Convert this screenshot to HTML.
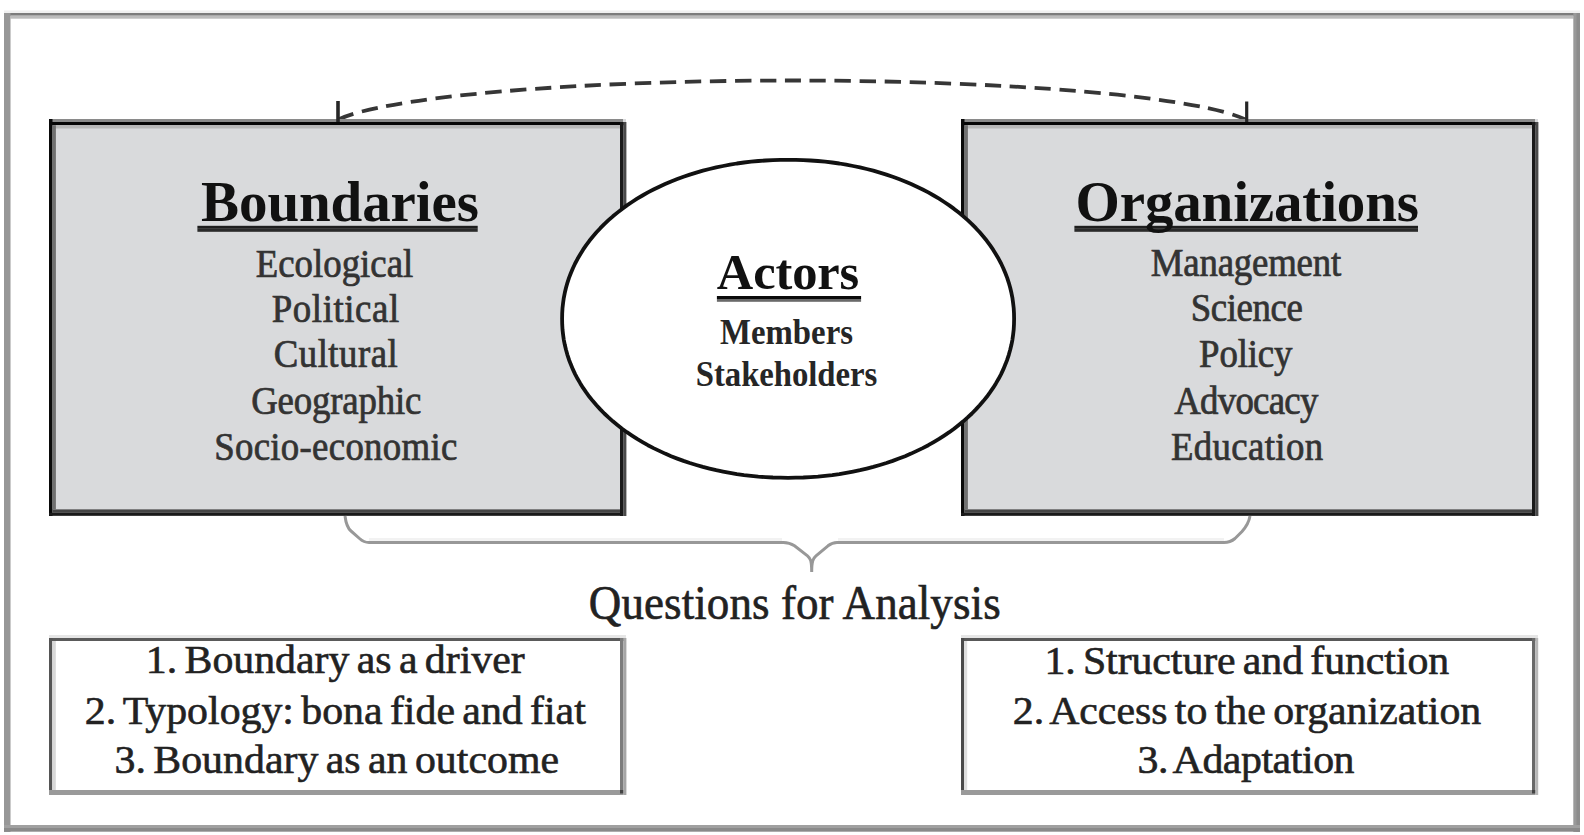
<!DOCTYPE html>
<html>
<head>
<meta charset="utf-8">
<style>
html,body{margin:0;padding:0;background:#fff;width:1584px;height:835px;overflow:hidden}
svg{display:block}
text{font-family:"Liberation Serif",serif}
.t{font-weight:bold;fill:#111}
.t2{font-weight:bold;fill:#262626}
.l{fill:#333;stroke:#333;stroke-width:0.7px}
.q{fill:#222;stroke:#222;stroke-width:0.6px;word-spacing:-3px}
.qa{fill:#222;stroke:#222;stroke-width:0.6px}

</style>
</head>
<body>
<svg width="1584" height="835" viewBox="0 0 1584 835">
  <rect x="0" y="0" width="1584" height="835" fill="#fff"/>
  <!-- outer frame -->
  <rect x="4" y="10.5" width="1576" height="2.5" fill="#f0f0f0"/>
  <rect x="4" y="13" width="1576" height="2.7" fill="#7c7c7c"/>
  <rect x="10.5" y="15.7" width="1563" height="3" fill="#bcbcbc"/>
  <rect x="4" y="13" width="6.5" height="819" fill="#979797"/>
  <rect x="1573.3" y="13" width="6.7" height="819" fill="#999"/>
  <rect x="1576.5" y="13" width="3.5" height="819" fill="#8c8c8c"/>
  <rect x="4" y="825" width="1576" height="3" fill="#a0a0a0"/>
  <rect x="4" y="828" width="1576" height="3.7" fill="#8a8a8a"/>

  <!-- dashed arc -->
  <path d="M 338 119.7 A 465 50 0 0 1 1246 119.7" fill="none" stroke="#363636" stroke-width="3.8" stroke-dasharray="16.3 8.675" stroke-dashoffset="-0.49"/>

  <!-- boxes -->
  <g>
    <rect x="49" y="119" width="577" height="397" fill="#d9dadc"/>
    <rect x="49" y="119" width="574" height="3" fill="#8a8a8a"/>
    <rect x="49" y="122" width="577" height="3.2" fill="#060606"/>
    <rect x="52.5" y="125.2" width="568" height="3.3" fill="#b8b8b8"/>
    <rect x="49" y="119" width="3.5" height="397" fill="#0a0a0a"/>
    <rect x="52.5" y="125.2" width="3.4" height="384" fill="#707070"/>
    <rect x="620" y="122" width="3.2" height="394" fill="#1a1a1a"/>
    <rect x="623.2" y="122" width="3.2" height="394" fill="#4a4a4a"/>
    <rect x="52.5" y="509.4" width="567.5" height="3.4" fill="#454545"/>
    <rect x="49" y="512.8" width="574" height="3" fill="#1a1a1a"/>
  </g>
  <g transform="translate(912 0)">
    <rect x="49" y="119" width="577" height="397" fill="#d9dadc"/>
    <rect x="49" y="119" width="574" height="3" fill="#8a8a8a"/>
    <rect x="49" y="122" width="577" height="3.2" fill="#060606"/>
    <rect x="52.5" y="125.2" width="568" height="3.3" fill="#b8b8b8"/>
    <rect x="49" y="119" width="3.5" height="397" fill="#0a0a0a"/>
    <rect x="52.5" y="125.2" width="3.4" height="384" fill="#707070"/>
    <rect x="620" y="122" width="3.2" height="394" fill="#1a1a1a"/>
    <rect x="623.2" y="122" width="3.2" height="394" fill="#4a4a4a"/>
    <rect x="52.5" y="509.4" width="567.5" height="3.4" fill="#454545"/>
    <rect x="49" y="512.8" width="574" height="3" fill="#1a1a1a"/>
  </g>

  <!-- arrowheads -->
  <path d="M 338 101 L 338 122" stroke="#262626" stroke-width="3.6" fill="none"/>
  <path d="M 1246.7 101.5 L 1246.7 122" stroke="#262626" stroke-width="3.2" fill="none"/>

  <!-- ellipse -->
  <path d="M1014.1 318.8L1014.0 324.2L1013.7 329.5L1013.1 334.7L1012.4 339.8L1011.4 344.8L1010.2 349.8L1008.8 354.8L1007.2 359.7L1005.3 364.6L1003.3 369.4L1001.1 374.1L998.6 378.8L995.9 383.4L993.1 387.9L990.0 392.4L986.8 396.8L983.3 401.1L979.7 405.3L975.9 409.4L971.9 413.5L967.7 417.4L963.3 421.3L958.8 425.0L954.1 428.7L949.3 432.2L944.2 435.6L939.1 438.9L933.7 442.1L928.3 445.2L922.7 448.1L916.9 450.9L911.1 453.6L905.1 456.2L898.9 458.6L892.7 460.9L886.4 463.0L879.9 465.0L873.3 466.9L866.7 468.6L860.0 470.2L853.1 471.6L846.2 472.9L839.3 474.1L832.2 475.1L825.1 475.9L817.9 476.6L810.6 477.1L803.3 477.5L795.8 477.7L788.1 477.8L780.4 477.7L772.9 477.5L765.6 477.1L758.3 476.6L751.1 475.9L744.0 475.1L736.9 474.1L730.0 472.9L723.1 471.6L716.2 470.2L709.5 468.6L702.9 466.9L696.3 465.0L689.8 463.0L683.5 460.9L677.3 458.6L671.1 456.2L665.1 453.6L659.3 450.9L653.5 448.1L647.9 445.2L642.5 442.1L637.1 438.9L632.0 435.6L626.9 432.2L622.1 428.7L617.4 425.0L612.9 421.3L608.5 417.4L604.3 413.5L600.3 409.4L596.5 405.3L592.9 401.1L589.4 396.8L586.2 392.4L583.1 387.9L580.3 383.4L577.6 378.8L575.1 374.1L572.9 369.4L570.9 364.6L569.0 359.7L567.4 354.8L566.0 349.8L564.8 344.8L563.8 339.8L563.1 334.7L562.5 329.5L562.2 324.2L562.1 318.8L562.2 313.4L562.5 308.1L563.1 302.9L563.8 297.8L564.8 292.8L566.0 287.8L567.4 282.8L569.0 277.9L570.9 273.0L572.9 268.2L575.1 263.5L577.6 258.8L580.3 254.2L583.1 249.7L586.2 245.2L589.4 240.8L592.9 236.5L596.5 232.3L600.3 228.2L604.3 224.1L608.5 220.2L612.9 216.3L617.4 212.6L622.1 208.9L626.9 205.4L632.0 202.0L637.1 198.7L642.5 195.5L647.9 192.4L653.5 189.5L659.3 186.7L665.1 184.0L671.1 181.4L677.3 179.0L683.5 176.7L689.8 174.6L696.3 172.6L702.9 170.7L709.5 169.0L716.2 167.4L723.1 166.0L730.0 164.7L736.9 163.5L744.0 162.5L751.1 161.7L758.3 161.0L765.6 160.5L772.9 160.1L780.4 159.9L788.1 159.8L795.8 159.9L803.3 160.1L810.6 160.5L817.9 161.0L825.1 161.7L832.2 162.5L839.3 163.5L846.2 164.7L853.1 166.0L860.0 167.4L866.7 169.0L873.3 170.7L879.9 172.6L886.4 174.6L892.7 176.7L898.9 179.0L905.1 181.4L911.1 184.0L916.9 186.7L922.7 189.5L928.3 192.4L933.7 195.5L939.1 198.7L944.2 202.0L949.3 205.4L954.1 208.9L958.8 212.6L963.3 216.3L967.7 220.2L971.9 224.1L975.9 228.2L979.7 232.3L983.3 236.5L986.8 240.8L990.0 245.2L993.1 249.7L995.9 254.2L998.6 258.8L1001.1 263.5L1003.3 268.2L1005.3 273.0L1007.2 277.9L1008.8 282.8L1010.2 287.8L1011.4 292.8L1012.4 297.8L1013.1 302.9L1013.7 308.1L1014.0 313.4Z" fill="#fff" stroke="#111" stroke-width="3.8" stroke-linejoin="round"/>

  <!-- brace -->
  <path d="M 369 539.5 L 782 539.5 M 838 539.5 L 1224 539.5" fill="none" stroke="#f2f2f2" stroke-width="3"/>
  <path d="M 345 516 C 346 524, 347.5 528, 351 531 L 359.5 538.5 C 362 540.8, 364.5 542.5, 369 542.5 L 783.5 542.5 C 788 542.5, 791 543.5, 794.5 545.8 L 807.5 555.8 C 810.5 558.3, 811.7 561, 811.7 572 C 811.7 561, 813 558.3, 816 555.8 L 828 545.8 C 831 543.5, 833 542.5, 837 542.5 L 1224 542.5 C 1229 542.5, 1232 541, 1235 538.5 L 1242 531.5 C 1246 527, 1249 522, 1250 516" fill="none" stroke="#989898" stroke-width="3"/>

  <!-- bottom boxes -->
  <rect x="49" y="635" width="577" height="160" fill="#fff"/>
  <rect x="49" y="635" width="577" height="3" fill="#e6e6e6"/>
  <rect x="49" y="638" width="577" height="3" fill="#5a5a5a"/>
  <rect x="49" y="638" width="3.3" height="157" fill="#555"/>
  <rect x="52.3" y="641" width="3.5" height="149" fill="#d8d8d8"/>
  <rect x="620" y="638" width="3.2" height="157" fill="#7c7c7c"/>
  <rect x="623.2" y="638" width="3.2" height="157" fill="#a6a6a6"/>
  <rect x="49" y="790" width="574" height="5" fill="#9a9a9a"/>
  <rect x="620" y="790" width="3.2" height="3.5" fill="#444"/>

  <rect x="961" y="635" width="577" height="160" fill="#fff"/>
  <rect x="961" y="635" width="577" height="3" fill="#e6e6e6"/>
  <rect x="961" y="638" width="577" height="3" fill="#585858"/>
  <rect x="961" y="638" width="3.2" height="157" fill="#4a4a4a"/>
  <rect x="964.2" y="641" width="3" height="149" fill="#dedede"/>
  <rect x="1532" y="638" width="3.2" height="157" fill="#6a6a6a"/>
  <rect x="1535.2" y="638" width="3" height="157" fill="#b8b8b8"/>
  <rect x="961" y="790" width="574" height="5" fill="#9a9a9a"/>
  <rect x="1532" y="790" width="3.2" height="3.5" fill="#444"/>

  
  <!-- titles & text -->
  
  <rect x="197.4" y="225.8" width="280.3" height="3" fill="#1e1e1e"/>
  <rect x="197.4" y="228.8" width="280.3" height="3" fill="#2a2a2a"/>
  <rect x="1074.4" y="225.8" width="343.6" height="3" fill="#1e1e1e"/>
  <rect x="1074.4" y="228.8" width="343.6" height="3" fill="#2a2a2a"/>
  <rect x="716.9" y="296" width="144.2" height="3" fill="#0a0a0a"/>
  <rect x="716.9" y="299" width="144.2" height="2.8" fill="#6a6a6a"/>

  <text class="t" font-size="57" text-anchor="middle" transform="translate(340.00 221.3) scale(1.0 1.0)" textLength="277.95" lengthAdjust="spacing">Boundaries</text>
  <text class="t" font-size="57" text-anchor="middle" transform="translate(1247.25 221.3) scale(1.0 1.0)" textLength="343.39" lengthAdjust="spacing">Organizations</text>
  <text class="t" font-size="50.5" text-anchor="middle" transform="translate(788.00 288.6) scale(1.0 1.0)" textLength="142.43" lengthAdjust="spacing">Actors</text>
  <text class="t2" font-size="32.8" text-anchor="middle" transform="translate(786.50 343.7) scale(1.0 1.1)" textLength="133.13" lengthAdjust="spacing">Members</text>
  <text class="t2" font-size="32.8" text-anchor="middle" transform="translate(786.50 385.6) scale(1.0 1.1)" textLength="181.39" lengthAdjust="spacing">Stakeholders</text>
  <text class="l" font-size="36.8" text-anchor="middle" transform="translate(334.50 276.5) scale(1.0 1.07)" textLength="157.69" lengthAdjust="spacing">Ecological</text>
  <text class="l" font-size="36.8" text-anchor="middle" transform="translate(335.50 321.6) scale(1.0 1.07)" textLength="127.41" lengthAdjust="spacing">Political</text>
  <text class="l" font-size="36.8" text-anchor="middle" transform="translate(335.75 367.0) scale(1.0 1.07)" textLength="124.17" lengthAdjust="spacing">Cultural</text>
  <text class="l" font-size="36.8" text-anchor="middle" transform="translate(336.25 413.8) scale(1.0 1.07)" textLength="170.20" lengthAdjust="spacing">Geographic</text>
  <text class="l" font-size="36.8" text-anchor="middle" transform="translate(335.75 460.2) scale(1.0 1.07)" textLength="243.04" lengthAdjust="spacing">Socio-economic</text>
  <text class="l" font-size="36.8" text-anchor="middle" transform="translate(1246.00 276.2) scale(1.0 1.07)" textLength="190.42" lengthAdjust="spacing">Management</text>
  <text class="l" font-size="36.8" text-anchor="middle" transform="translate(1246.75 321.4) scale(1.0 1.07)" textLength="112.18" lengthAdjust="spacing">Science</text>
  <text class="l" font-size="36.8" text-anchor="middle" transform="translate(1245.75 367.0) scale(1.0 1.07)" textLength="93.41" lengthAdjust="spacing">Policy</text>
  <text class="l" font-size="36.8" text-anchor="middle" transform="translate(1246.25 414.3) scale(1.0 1.07)" textLength="144.11" lengthAdjust="spacing">Advocacy</text>
  <text class="l" font-size="36.8" text-anchor="middle" transform="translate(1247.00 460.3) scale(1.0 1.07)" textLength="152.14" lengthAdjust="spacing">Education</text>
  <text class="qa" font-size="45" text-anchor="middle" transform="translate(794.75 618.9) scale(1.0 1.065)" textLength="411.85" lengthAdjust="spacing">Questions for Analysis</text>
  <text class="q" font-size="40.6" text-anchor="middle" transform="translate(335.25 673.4) scale(1.03 0.985)" textLength="367.88" lengthAdjust="spacing">1. Boundary as a driver</text>
  <text class="q" font-size="40.6" text-anchor="middle" transform="translate(335.25 723.5) scale(1.03 0.985)" textLength="486.46" lengthAdjust="spacing">2. Typology: bona fide and fiat</text>
  <text class="q" font-size="40.6" text-anchor="middle" transform="translate(336.75 773.0) scale(1.03 0.985)" textLength="431.63" lengthAdjust="spacing">3. Boundary as an outcome</text>
  <text class="q" font-size="40.6" text-anchor="middle" transform="translate(1246.75 674.0) scale(1.03 0.985)" textLength="392.97" lengthAdjust="spacing">1. Structure and function</text>
  <text class="q" font-size="40.6" text-anchor="middle" transform="translate(1247.00 723.6) scale(1.03 0.985)" textLength="454.87" lengthAdjust="spacing">2. Access to the organization</text>
  <text class="q" font-size="40.6" text-anchor="middle" transform="translate(1246.00 772.9) scale(1.03 0.985)" textLength="210.72" lengthAdjust="spacing">3. Adaptation</text>
</svg>
</body>
</html>
